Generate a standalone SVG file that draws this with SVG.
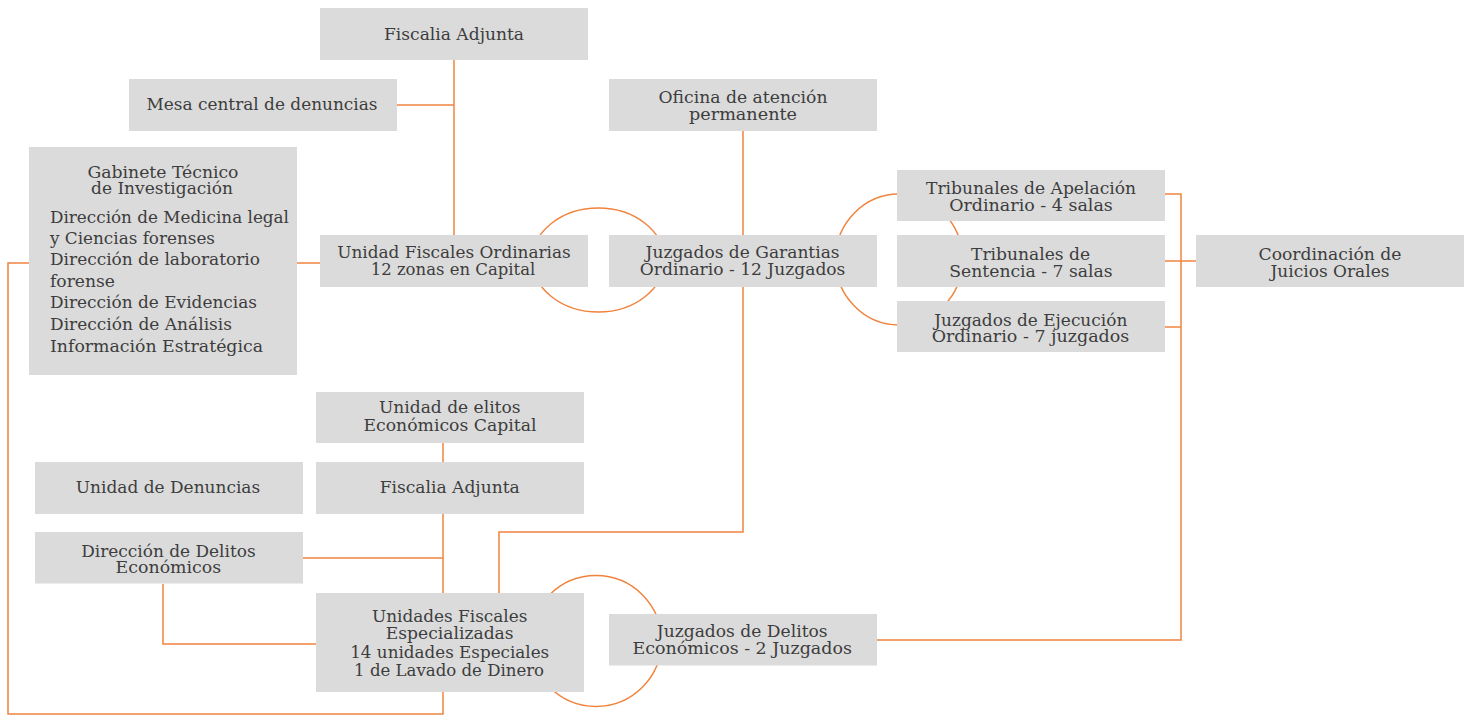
<svg xmlns="http://www.w3.org/2000/svg" width="1469" height="715" viewBox="0 0 1469 715">
<style>
.box{fill:#dbdbdb}
.t{font-family:"DejaVu Serif","Liberation Serif",serif;font-size:17px;fill:#3d3d3d;text-anchor:middle}
.s{text-anchor:start}
.l{fill:none;stroke:#f0843f;stroke-width:1.5}
</style>
<rect width="1469" height="715" fill="#ffffff"/>
<g id="connectors">
<path class="l" d="M454,60 V235"/>
<path class="l" d="M397,105 H454"/>
<path class="l" d="M297,263 H320"/>
<path class="l" d="M29,263 H8 V714 H443 V692"/>
<path class="l" d="M743,131 V235"/>
<path class="l" d="M743,287 V532 H499 V593"/>
<path class="l" d="M443,443 V462"/>
<path class="l" d="M443,514 V593"/>
<path class="l" d="M303,558 H443"/>
<path class="l" d="M163,584 V644 H316"/>
<path class="l" d="M1165,194 H1181 V640 H877"/>
<path class="l" d="M1165,261 H1196"/>
<path class="l" d="M1165,327 H1181"/>
<ellipse class="l" cx="598.3" cy="260" rx="66" ry="52"/>
<ellipse class="l" cx="899" cy="259.5" rx="63.5" ry="65.5"/>
<circle class="l" cx="596" cy="641" r="65.5"/>
</g>
<g id="fiscalia-adjunta-top">
<rect class="box" x="320" y="8" width="268" height="52"/>
<text class="t" x="454" y="40" textLength="140" lengthAdjust="spacingAndGlyphs">Fiscalia Adjunta</text>
</g>
<g id="mesa-central">
<rect class="box" x="129" y="79" width="268" height="52"/>
<text class="t" x="262" y="110" textLength="231" lengthAdjust="spacingAndGlyphs">Mesa central de denuncias</text>
</g>
<g id="oficina-atencion">
<rect class="box" x="609" y="79" width="268" height="52"/>
<text class="t" x="743" y="102.5" textLength="169" lengthAdjust="spacingAndGlyphs">Oficina de atención</text>
<text class="t" x="743" y="120" textLength="108" lengthAdjust="spacingAndGlyphs">permanente</text>
</g>
<g id="gabinete">
<rect class="box" x="29" y="147" width="268" height="228"/>
<text class="t" x="163" y="177.7" textLength="151" lengthAdjust="spacingAndGlyphs">Gabinete Técnico</text>
<text class="t" x="162" y="194.3" textLength="142" lengthAdjust="spacingAndGlyphs">de Investigación</text>
<text class="t s" x="50" y="223.3" textLength="239" lengthAdjust="spacingAndGlyphs">Dirección de Medicina legal</text>
<text class="t s" x="50" y="243.5" textLength="165" lengthAdjust="spacingAndGlyphs">y Ciencias forenses</text>
<text class="t s" x="50" y="265" textLength="210" lengthAdjust="spacingAndGlyphs">Dirección de laboratorio</text>
<text class="t s" x="50" y="286.7" textLength="65" lengthAdjust="spacingAndGlyphs">forense</text>
<text class="t s" x="50" y="308.3" textLength="207" lengthAdjust="spacingAndGlyphs">Dirección de Evidencias</text>
<text class="t s" x="50" y="330" textLength="182" lengthAdjust="spacingAndGlyphs">Dirección de Análisis</text>
<text class="t s" x="50" y="351.7" textLength="213" lengthAdjust="spacingAndGlyphs">Información Estratégica</text>
</g>
<g id="unidad-fiscales-ordinarias">
<rect class="box" x="320" y="235" width="268" height="52"/>
<text class="t" x="454" y="257.7" textLength="233.5" lengthAdjust="spacingAndGlyphs">Unidad Fiscales Ordinarias</text>
<text class="t" x="453" y="275" textLength="164.6" lengthAdjust="spacingAndGlyphs">12 zonas en Capital</text>
</g>
<g id="juzgados-garantias">
<rect class="box" x="609" y="235" width="268" height="52"/>
<text class="t" x="742.6" y="257.7" textLength="194" lengthAdjust="spacingAndGlyphs">Juzgados de Garantias</text>
<text class="t" x="742.6" y="275" textLength="205.6" lengthAdjust="spacingAndGlyphs">Ordinario - 12 Juzgados</text>
</g>
<g id="tribunales-apelacion">
<rect class="box" x="897" y="170" width="268" height="51"/>
<text class="t" x="1031" y="194.3" textLength="210" lengthAdjust="spacingAndGlyphs">Tribunales de Apelación</text>
<text class="t" x="1031" y="210.7" textLength="163.7" lengthAdjust="spacingAndGlyphs">Ordinario - 4 salas</text>
</g>
<g id="tribunales-sentencia">
<rect class="box" x="897" y="235" width="268" height="52"/>
<text class="t" x="1030.5" y="260" textLength="119" lengthAdjust="spacingAndGlyphs">Tribunales de</text>
<text class="t" x="1031" y="276.7" textLength="163.4" lengthAdjust="spacingAndGlyphs">Sentencia - 7 salas</text>
</g>
<g id="juzgados-ejecucion">
<rect class="box" x="897" y="301" width="268" height="51"/>
<text class="t" x="1030.8" y="325.7" textLength="193" lengthAdjust="spacingAndGlyphs">Juzgados de Ejecución</text>
<text class="t" x="1030.5" y="342.3" textLength="197.7" lengthAdjust="spacingAndGlyphs">Ordinario - 7 juzgados</text>
</g>
<g id="coordinacion-juicios">
<rect class="box" x="1196" y="235" width="268" height="52"/>
<text class="t" x="1330" y="260" textLength="143" lengthAdjust="spacingAndGlyphs">Coordinación de</text>
<text class="t" x="1330" y="276.7" textLength="119" lengthAdjust="spacingAndGlyphs">Juicios Orales</text>
</g>
<g id="unidad-elitos">
<rect class="box" x="316" y="392" width="268" height="51"/>
<text class="t" x="449.7" y="413.3" textLength="141.6" lengthAdjust="spacingAndGlyphs">Unidad de elitos</text>
<text class="t" x="450" y="430.7" textLength="173" lengthAdjust="spacingAndGlyphs">Económicos Capital</text>
</g>
<g id="unidad-denuncias">
<rect class="box" x="35" y="462" width="268" height="52"/>
<text class="t" x="168" y="492.7" textLength="184.4" lengthAdjust="spacingAndGlyphs">Unidad de Denuncias</text>
</g>
<g id="fiscalia-adjunta-2">
<rect class="box" x="316" y="462" width="268" height="52"/>
<text class="t" x="449.7" y="492.7" textLength="140" lengthAdjust="spacingAndGlyphs">Fiscalia Adjunta</text>
</g>
<g id="direccion-delitos">
<rect class="box" x="35" y="532" width="268" height="51.5"/>
<text class="t" x="168.4" y="556.7" textLength="174.5" lengthAdjust="spacingAndGlyphs">Dirección de Delitos</text>
<text class="t" x="168.4" y="573.3" textLength="105.6" lengthAdjust="spacingAndGlyphs">Económicos</text>
</g>
<g id="unidades-especializadas">
<rect class="box" x="316" y="593" width="268" height="99"/>
<text class="t" x="449.7" y="621.7" textLength="155.4" lengthAdjust="spacingAndGlyphs">Unidades Fiscales</text>
<text class="t" x="449.7" y="639.3" textLength="127.8" lengthAdjust="spacingAndGlyphs">Especializadas</text>
<text class="t" x="449.7" y="657.7" textLength="199" lengthAdjust="spacingAndGlyphs">14 unidades Especiales</text>
<text class="t" x="449.1" y="675.7" textLength="190" lengthAdjust="spacingAndGlyphs">1 de Lavado de Dinero</text>
</g>
<g id="juzgados-delitos">
<rect class="box" x="609" y="614" width="268" height="51.5"/>
<text class="t" x="742.2" y="636.7" textLength="170.8" lengthAdjust="spacingAndGlyphs">Juzgados de Delitos</text>
<text class="t" x="742.2" y="654" textLength="219.5" lengthAdjust="spacingAndGlyphs">Económicos - 2 Juzgados</text>
</g>
</svg>
